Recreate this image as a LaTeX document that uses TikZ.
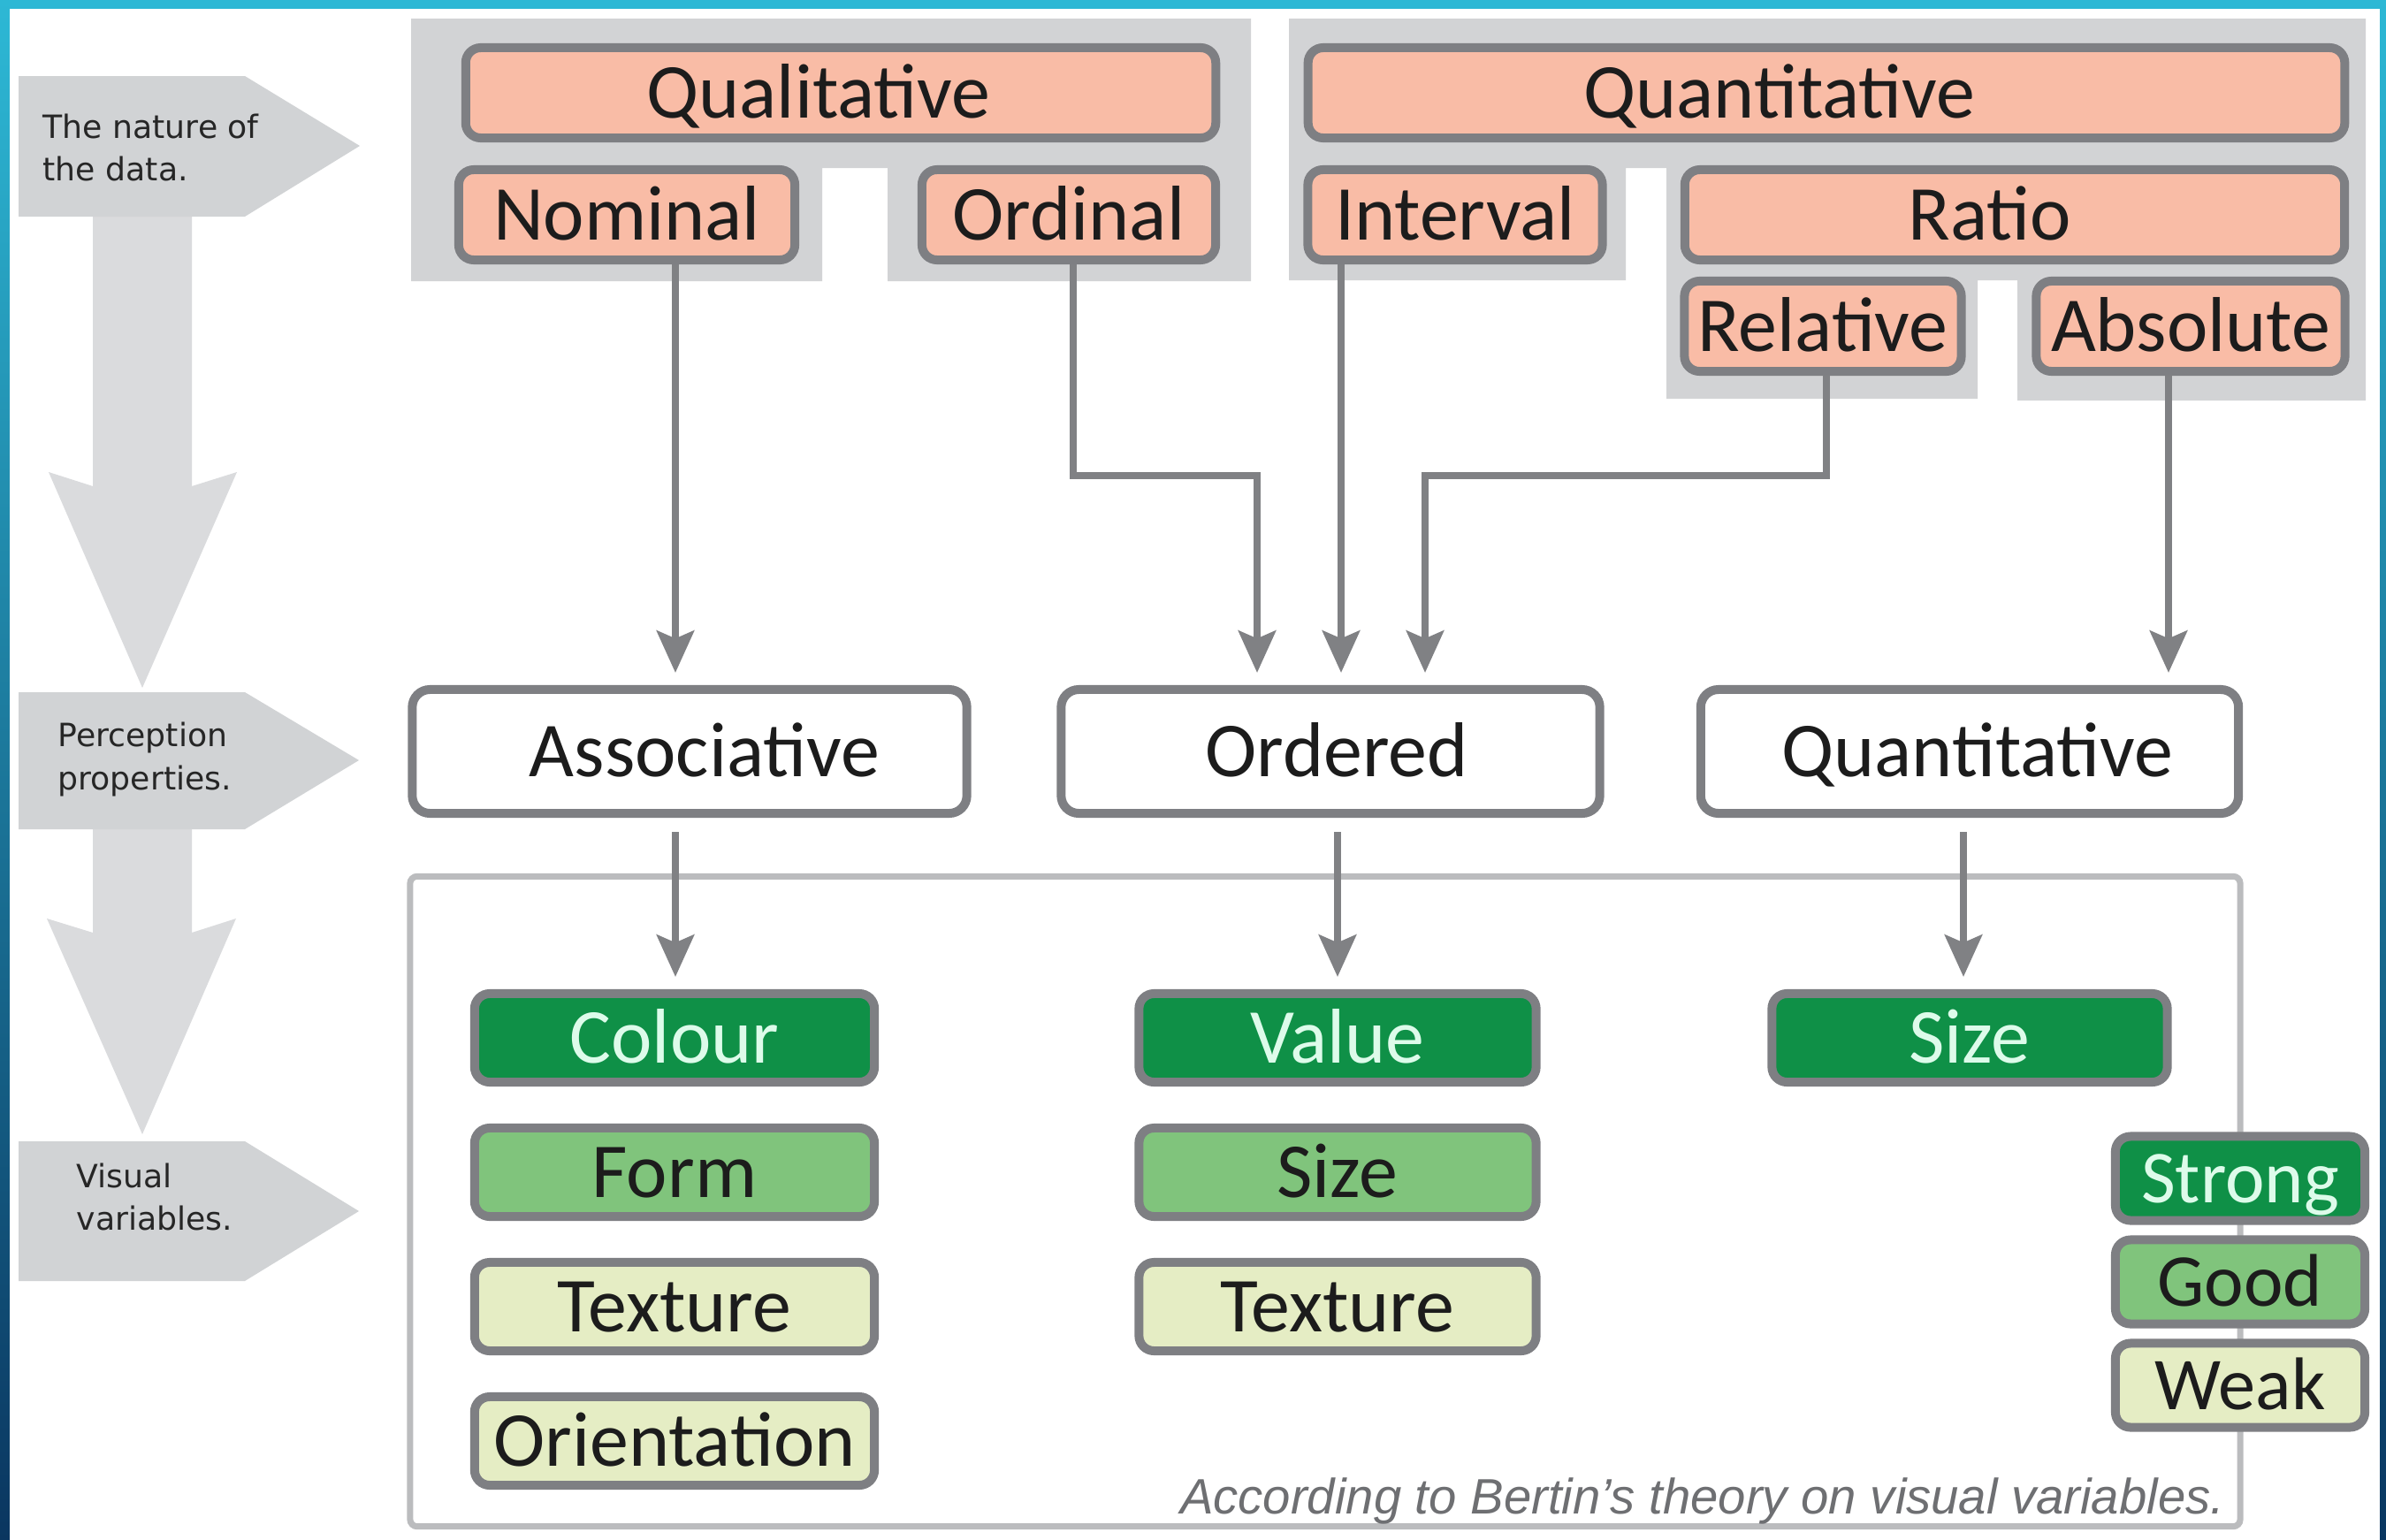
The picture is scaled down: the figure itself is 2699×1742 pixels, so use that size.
\documentclass[tikz,border=0pt]{standalone}
\usepackage{fontspec}
\setmainfont{Carlito}
\newfontfamily\pentfont{DejaVu Sans}
\newfontfamily\capfont{Liberation Sans}
\usetikzlibrary{arrows.meta}

\definecolor{frameTop}{HTML}{2DB8D5}
\definecolor{frameMid}{HTML}{1B87B0}
\definecolor{frameBot}{HTML}{0A3660}
\definecolor{salmon}{HTML}{F9BCA6}
\definecolor{edgeGrey}{HTML}{7E7F83}
\definecolor{groupGrey}{HTML}{D2D3D5}
\definecolor{pentGrey}{HTML}{D1D3D5}
\definecolor{shaftGrey}{HTML}{DADBDD}
\definecolor{darkGreen}{HTML}{0F9047}
\definecolor{midGreen}{HTML}{80C47C}
\definecolor{paleGreen}{HTML}{E5EDC4}
\definecolor{mint}{HTML}{DDFBEA}
\definecolor{contGrey}{HTML}{BBBCBE}
\definecolor{connGrey}{HTML}{808184}
\definecolor{inkText}{HTML}{1C1C1C}
\definecolor{pentText}{HTML}{262626}
\definecolor{capGrey}{HTML}{6E6F72}

\begin{document}
\begin{tikzpicture}[x=0.01cm, y=-0.01cm,
  box/.style={draw=edgeGrey, line width=0.10cm, rounded corners=0.17cm, inner sep=0pt,
    text=inkText, font=\fontsize{25}{30}\selectfont, text height=16.1pt, text depth=0pt},
  salmonbox/.style={box, fill=salmon, minimum height=1.02cm},
  propbox/.style={box, fill=white, minimum height=1.40cm, rounded corners=0.2cm},
  strongbox/.style={box, fill=darkGreen, text=mint, minimum height=1.00cm},
  goodbox/.style={box, fill=midGreen, minimum height=1.00cm},
  weakbox/.style={box, fill=paleGreen, minimum height=1.00cm},
  legstrong/.style={strongbox, font=\fontsize{24}{29}\selectfont, text height=15.5pt, minimum height=0.95cm, minimum width=2.82cm},
  leggood/.style={goodbox, font=\fontsize{24}{29}\selectfont, text height=15.5pt, minimum height=0.95cm, minimum width=2.82cm},
  legweak/.style={weakbox, font=\fontsize{24}{29}\selectfont, text height=15.5pt, minimum height=0.95cm, minimum width=2.82cm},
  contbox/.style={draw=contGrey, line width=0.07cm, rounded corners=0.08cm, fill=white, inner sep=0pt},
  conn/.style={draw=connGrey, line width=0.08cm, -{Stealth[length=13.5pt, width=12pt, inset=2.5pt]}, shorten >=0.14cm},
  conn2/.style={conn, shorten <=0.16cm},
  penttext/.style={anchor=west, align=left, inner sep=0pt, text=pentText, font=\pentfont\fontsize{10.3}{13.7}\selectfont},
]
\useasboundingbox (0,0) rectangle (2699,1742);

% frame
\shade[top color=frameTop, middle color=frameMid, bottom color=frameBot] (0,0) rectangle (2699,1742);
\fill[white] (11,10) rectangle (2692,1742);

% left flow arrows and pentagons
\fill[shaftGrey] (105,245) -- (217,245) -- (217,550) -- (268,534) -- (161,778) -- (55,534) -- (105,550) -- cycle;
\fill[shaftGrey] (105,938) -- (217,938) -- (217,1055) -- (267,1039) -- (161,1283) -- (53,1039) -- (105,1055) -- cycle;
\fill[pentGrey] (21,86) -- (277,86) -- (407,165) -- (277,245) -- (21,245) -- cycle;
\fill[pentGrey] (21,783) -- (277,783) -- (406,860) -- (277,938) -- (21,938) -- cycle;
\fill[pentGrey] (21,1291) -- (277,1291) -- (406,1370) -- (277,1449) -- (21,1449) -- cycle;
\node[penttext] (t1) at (48,167) {The nature of\\the data.};
\node[penttext] (t2) at (65,859) {Perception\\properties.};
\node[penttext] (t3) at (86,1354) {Visual\\variables.};

% group backgrounds
\fill[groupGrey] (465,21) -- (1415,21) -- (1415,318) -- (1004,318) -- (1004,190) -- (930,190) -- (930,318) -- (465,318) -- cycle;
\fill[groupGrey] (1458,21) -- (2676,21) -- (2676,453) -- (2282,453) -- (2282,317) -- (2237,317) -- (2237,451) -- (1885,451) -- (1885,190) -- (1839,190) -- (1839,317) -- (1458,317) -- cycle;

% container
\node[contbox, minimum width=20.69cm, minimum height=7.35cm] (container) at (1499,1359) {};

% data nature boxes
\node[salmonbox, minimum width=8.48cm] (qual) at (951,105) {\hspace*{-0.25cm}Qualitative\hspace*{0.25cm}};
\node[salmonbox, minimum width=3.80cm] (nominal) at (709,243) {Nominal};
\node[salmonbox, minimum width=3.32cm] (ordinal) at (1209,243) {Ordinal};
\node[salmonbox, minimum width=11.72cm] (quant) at (2066,105) {\hspace*{-0.53cm}Quantitative\hspace*{0.53cm}};
\node[salmonbox, minimum width=3.33cm] (interval) at (1646,243) {Interval};
\node[salmonbox, minimum width=7.46cm] (ratio) at (2279,243) {\hspace*{-0.28cm}Ratio\hspace*{0.28cm}};
\node[salmonbox, minimum width=3.13cm] (relative) at (2062,369) {Relative};
\node[salmonbox, minimum width=3.49cm] (absolute) at (2478,369) {Absolute};

% perception properties
\node[propbox, minimum width=6.27cm] (associative) at (780,850) {\hspace*{0.17cm}Associative\hspace*{-0.17cm}};
\node[propbox, minimum width=6.09cm] (ordered) at (1505,850) {\hspace*{0.07cm}Ordered\hspace*{-0.07cm}};
\node[propbox, minimum width=6.08cm] (quantb) at (2228,850) {\hspace*{0.09cm}Quantitative\hspace*{-0.09cm}};

% coordinates for connectors
\coordinate (kNom) at (764,0);
\coordinate (kOrd) at (1214,0);
\coordinate (kInt) at (1517,0);
\coordinate (kRel) at (2066,0);
\coordinate (kAbs) at (2453,0);
\coordinate (kO1) at (1422,538);
\coordinate (kO3) at (1612,538);
\coordinate (kVal) at (1513,0);
\coordinate (kQS) at (2221,0);

% visual variables
\node[strongbox, minimum width=4.52cm] (colour) at (763,1174) {Colour};
\node[goodbox, minimum width=4.52cm] (form) at (763,1326) {Form};
\node[weakbox, minimum width=4.52cm] (texture1) at (763,1478) {Texture};
\node[weakbox, minimum width=4.52cm] (orientation) at (763,1630) {Orientation};
\node[strongbox, minimum width=4.49cm] (value) at (1513,1174) {Value};
\node[goodbox, minimum width=4.49cm] (size2) at (1513,1326) {Size};
\node[weakbox, minimum width=4.49cm] (texture2) at (1513,1478) {Texture};
\node[strongbox, minimum width=4.47cm] (size3) at (2228,1174) {Size};

% legend
\node[legstrong] (strong) at (2534,1333) {Strong};
\node[leggood] (good) at (2534,1450) {Good};
\node[legweak] (weak) at (2534,1567) {Weak};

% connectors
\draw[conn] (nominal.south -| kNom) -- (associative.north -| kNom);
\draw[conn] (ordinal.south -| kOrd) |- (kO1) -- (ordered.north -| kO1);
\draw[conn] (interval.south -| kInt) -- (ordered.north -| kInt);
\draw[conn] (relative.south -| kRel) |- (kO3) -- (ordered.north -| kO3);
\draw[conn] (absolute.south -| kAbs) -- (quantb.north -| kAbs);
\draw[conn2] (associative.south -| kNom) -- (colour.north -| kNom);
\draw[conn2] (ordered.south -| kVal) -- (value.north -| kVal);
\draw[conn2] (quantb.south -| kQS) -- (size3.north -| kQS);

% caption
\node[anchor=base east, inner sep=0pt, text=capGrey, font=\capfont\itshape\fontsize{16}{19}\selectfont] (caption) at (2517,1712) {According to Bertin’s theory on visual variables.};
\end{tikzpicture}
\end{document}
